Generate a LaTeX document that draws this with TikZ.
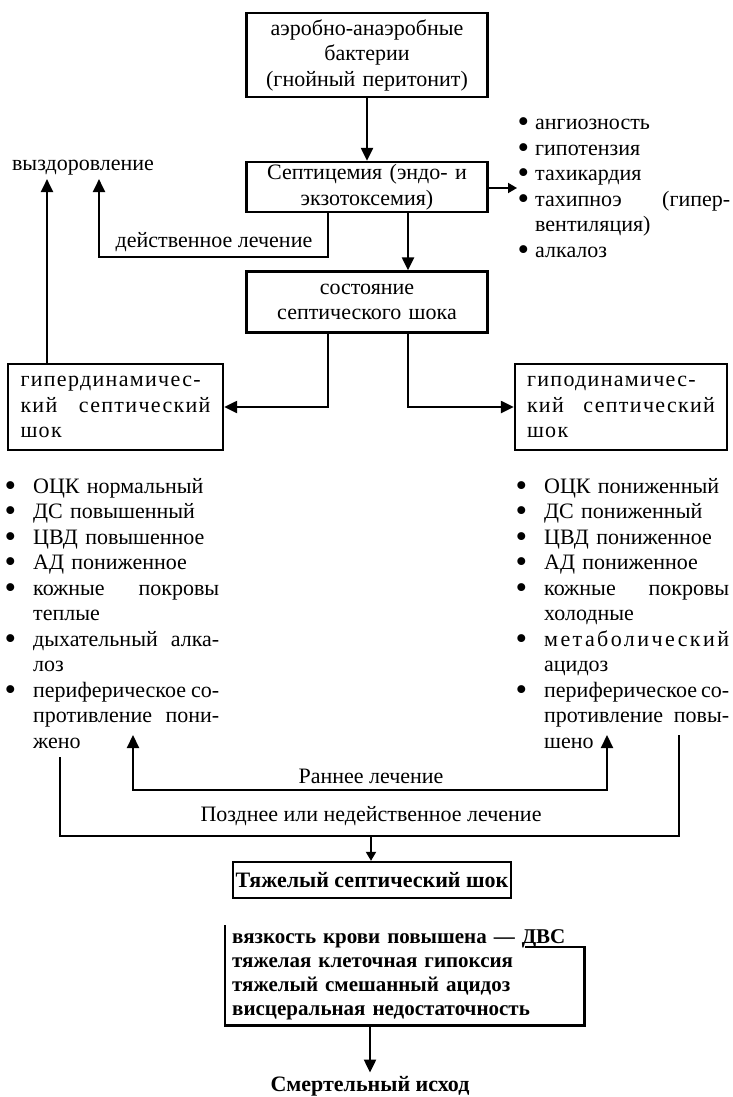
\documentclass[tikz,border=0pt]{standalone}
\usepackage{fontspec}
\setmainfont{Liberation Serif}
\newfontfamily\spacedfont[LetterSpace=6]{Liberation Serif}
\usetikzlibrary{arrows.meta}
\newcommand\mainfs{\fontsize{22}{25.5}\selectfont}
\newcommand\jl[2]{\makebox[#1][s]{\spaceskip=0pt\relax#2}}
\newcommand\bul[1]{\leavevmode\llap{\raisebox{-3pt}[0pt][0pt]{\scalebox{1.5}{\textbullet}}\hspace{#1}}}
\begin{document}
\begin{tikzpicture}[x=1pt,y=-1pt,font=\mainfs,
	box/.style={draw,line width=2.3pt,inner sep=0pt},
	lin/.style={line width=2.2pt},
	arr/.style={lin,-{Triangle[length=13pt,width=12pt]}},
	arrs/.style={line width=1.8pt,-{Triangle[length=9pt,width=10pt]}},
	tips/.style={lin,{Triangle[length=13pt,width=12pt]}-{Triangle[length=13pt,width=12pt]}}]
	\useasboundingbox (0,0) rectangle (732,1097);
	\node[box,minimum width=241pt,minimum height=84pt,text width=225pt,align=center] (bact) at (367,55) {аэробно-анаэробные\\бактерии\\(гнойный перитонит)};
	\node[box,minimum width=241pt,minimum height=50pt,text width=225pt,align=center] (sept) at (367,187) {Септицемия (эндо- и\\экзотоксемия)};
	\node[box,minimum width=241pt,minimum height=61pt,text width=225pt,align=center] (state) at (367,302) {состояние\\септического шока};
	\node[box,minimum width=215pt,minimum height=86pt,text width=190pt,align=left,font=\spacedfont\mainfs] (hyper) at (115.5,407) {\jl{190pt}{гипердинамичес-}\\\jl{190pt}{кий септический}\\шок};
	\node[box,minimum width=212pt,minimum height=86pt,text width=188pt,align=left,font=\spacedfont\mainfs] (hypo) at (621,407) {\jl{188pt}{гиподинамичес-}\\\jl{188pt}{кий септический}\\шок};
	\node[box,minimum width=278pt,minimum height=36pt,font=\mainfs\bfseries] (severe) at (372,880) {Тяжелый септический шок};
	\node[anchor=north west,minimum width=359pt,minimum height=100pt,inner xsep=7pt,text width=345pt,align=left,font=\fontsize{21}{24}\selectfont\bfseries] (signs) at (225,925) {вязкость крови повышена --- ДВС\\тяжелая клеточная гипоксия\\тяжелый смешанный ацидоз\\висцеральная недостаточность};
	\node[font=\mainfs\bfseries] (death) at (370,1086) {Смертельный исход};
	\node (recov) at (83,168) {выздоровление};
	\node (eff) at (214,242) {действенное лечение};
	\node (early) at (371,776) {Раннее лечение};
	\node (late) at (371,816) {Позднее или недейственное лечение};
	\node[anchor=north west,inner sep=0pt,text width=195pt,align=left] (symp) at (535,119) {\bul{6pt}ангиозность\\\bul{6pt}гипотензия\\\bul{6pt}тахикардия\\\bul{6pt}\jl{195pt}{тахипноэ (гипер-}\\вентиляция)\\\bul{6pt}алкалоз};
	\node[anchor=north west,inner sep=0pt,text width=186pt,align=left] (hyperlist) at (33,478) {\bul{17pt}ОЦК нормальный\\\bul{17pt}ДС повышенный\\\bul{17pt}ЦВД повышенное\\\bul{17pt}АД пониженное\\\bul{17pt}\jl{186pt}{кожные покровы}\\теплые\\\bul{17pt}\jl{186pt}{дыхательный алка-}\\лоз\\\bul{17pt}\jl{186pt}{периферическое со-}\\\jl{186pt}{противление пони-}\\жено};
	\node[anchor=north west,inner sep=0pt,text width=185pt,align=left] (hypolist) at (544,478) {\bul{17pt}ОЦК пониженный\\\bul{17pt}ДС пониженный\\\bul{17pt}ЦВД пониженное\\\bul{17pt}АД пониженное\\\bul{17pt}\jl{185pt}{кожные покровы}\\холодные\\\bul{17pt}{\addfontfeature{LetterSpace=11}метаболический}\\ацидоз\\\bul{17pt}\jl{185pt}{периферическое со-}\\\jl{185pt}{противление повы-}\\шено};
	\coordinate (lx) at (47,0);
	\coordinate (sympin) at (517,188);
	\coordinate (eL) at (133,735);
	\coordinate (eR) at (607,735);
	\coordinate (eB) at (371,790);
	\coordinate (lL) at (60,757);
	\coordinate (lR) at (679,735);
	\coordinate (lB) at (371,836);
	\draw[arr] (bact) -- (sept);
	\draw[arrs] (sept.east |- sympin) -- (sympin);
	\draw[arr] ([xshift=-39pt]sept.south) -- ++(0,44) -| ([xshift=16pt]recov.south);
	\draw[arr] (hyper.north -| lx) -- (recov.south -| lx);
	\draw[arr] ([xshift=41pt]sept.south) -- ([xshift=41pt]state.north);
	\draw[arr] ([xshift=-39pt]state.south) |- (hyper.east);
	\draw[arr] ([xshift=41pt]state.south) |- (hypo.west);
	\draw[tips] (eL) |- (eB) -| (eR);
	\draw[lin] (lL) |- (lB) -| (lR);
	\draw[arrs] (lB) -- (lB |- severe.north);
	\draw[lin] ([xshift=-59pt,yshift=-22pt]signs.north east) -- ([yshift=-22pt]signs.north east) -- (signs.south east) -- (signs.south west) -- (signs.north west);
	\draw[arr] (signs.south -| death.north) -- (death.north);
\end{tikzpicture}
\end{document}
